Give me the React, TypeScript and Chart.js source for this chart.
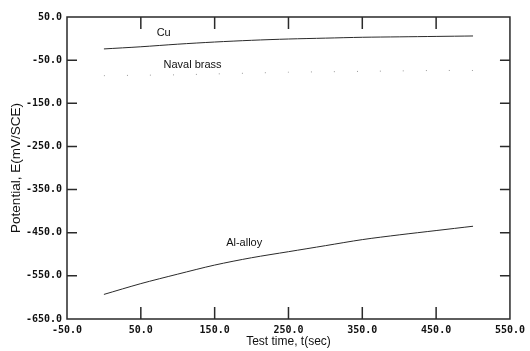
import React, { useEffect, useRef } from "react";
import { Chart, registerables } from "chart.js";

Chart.register(...registerables);

const times = [0, 50, 100, 150, 200, 250, 300, 350, 400, 450, 500];
const cuValues = [-24, -19, -13, -8, -4, -1, 1, 3, 4, 5, 6];
const brassValues = [-86, -85, -84, -82, -80, -78, -77, -76, -75, -74, -74];
const alValues = [-593, -568, -546, -525, -508, -494, -480, -466, -455, -445, -435];
const xTicks = [-50, 50, 150, 250, 350, 450, 550];
const yTicks = [50, -50, -150, -250, -350, -450, -550, -650];
const seriesLabels = [
  { text: "Cu", t: 81, v: 13 },
  { text: "Naval brass", t: 120, v: -62 },
  { text: "Al-alloy", t: 190, v: -474 },
];

const ink = "#2a2a2a";

const decorPlugin = {
  id: "decor",
  afterDraw(chart: any) {
    const ctx = chart.ctx;
    const xs = chart.scales.x;
    const ys = chart.scales.y;
    const a = chart.chartArea;
    ctx.save();
    ctx.setLineDash([]);
    ctx.strokeStyle = ink;
    ctx.lineWidth = 1.5;
    ctx.beginPath();
    ctx.moveTo(a.left, a.top);
    ctx.lineTo(a.right, a.top);
    ctx.lineTo(a.right, a.bottom);
    ctx.lineTo(a.left, a.bottom);
    ctx.closePath();
    xTicks.slice(1, -1).forEach((t) => {
      const px = xs.getPixelForValue(t);
      ctx.moveTo(px, a.bottom);
      ctx.lineTo(px, a.bottom - 12);
      ctx.moveTo(px, a.top);
      ctx.lineTo(px, a.top + 12);
    });
    yTicks.slice(1, -1).forEach((v) => {
      const py = ys.getPixelForValue(v);
      ctx.moveTo(a.left, py);
      ctx.lineTo(a.left + 10, py);
      ctx.moveTo(a.right, py);
      ctx.lineTo(a.right - 10, py);
    });
    ctx.stroke();
    ctx.fillStyle = "#111";
    ctx.font = "11px 'Liberation Sans', Arial, sans-serif";
    ctx.textAlign = "center";
    ctx.textBaseline = "middle";
    seriesLabels.forEach((l) => {
      ctx.fillText(l.text, xs.getPixelForValue(l.t), ys.getPixelForValue(l.v));
    });
    ctx.restore();
  },
};

export default function App() {
  const ref = useRef<HTMLCanvasElement | null>(null);
  useEffect(() => {
    if (!ref.current) return;
    const tickFont = { family: "'DejaVu Sans Mono', monospace", size: 10, weight: "bold" as const };
    const chart = new Chart(ref.current, {
      type: "line",
      data: {
        datasets: [
          {
            label: "Cu",
            data: times.map((t, i) => ({ x: t, y: cuValues[i] })),
            borderColor: ink,
            borderWidth: 1,
            pointRadius: 0,
            tension: 0.3,
          },
          {
            label: "Naval brass",
            data: times.map((t, i) => ({ x: t, y: brassValues[i] })),
            borderColor: "#9a9a9a",
            borderWidth: 1,
            borderDash: [1, 22],
            pointRadius: 0,
            tension: 0.3,
          },
          {
            label: "Al-alloy",
            data: times.map((t, i) => ({ x: t, y: alValues[i] })),
            borderColor: ink,
            borderWidth: 1,
            pointRadius: 0,
            tension: 0.3,
          },
        ],
      },
      options: {
        responsive: false,
        animation: false,
        layout: { padding: { top: 17, right: 14, left: 0, bottom: 0 } },
        plugins: { legend: { display: false }, tooltip: { enabled: false } },
        scales: {
          x: {
            type: "linear",
            min: -50,
            max: 550,
            afterBuildTicks: (s: any) => {
              s.ticks = xTicks.map((v) => ({ value: v }));
            },
            afterFit: (s: any) => {
              s.height = 32;
            },
            grid: { display: false, drawTicks: false },
            border: { display: false },
            ticks: {
              color: "#111",
              font: tickFont,
              padding: 5,
              maxRotation: 0,
              autoSkip: false,
              callback: (v: any) => Number(v).toFixed(1),
            },
            title: {
              display: true,
              text: "Test time, t(sec)",
              color: "#111",
              font: { family: "'Liberation Sans', Arial, sans-serif", size: 12 },
              padding: { top: 0, bottom: 2 },
            },
          },
          y: {
            type: "linear",
            min: -650,
            max: 50,
            afterBuildTicks: (s: any) => {
              s.ticks = yTicks.map((v) => ({ value: v }));
            },
            afterFit: (s: any) => {
              s.width = 67;
            },
            grid: { display: false, drawTicks: false },
            border: { display: false },
            ticks: {
              color: "#111",
              font: tickFont,
              padding: 5,
              autoSkip: false,
              callback: (v: any) => Number(v).toFixed(1),
            },
            title: {
              display: true,
              text: "Potential, E(mV/SCE)",
              color: "#111",
              font: { family: "'Liberation Sans', Arial, sans-serif", size: 13.5 },
              padding: { top: 8, bottom: 0 },
            },
          },
        },
      },
      plugins: [decorPlugin],
    });
    return () => chart.destroy();
  }, []);
  return (
    <div style={{ position: "fixed", left: 0, top: 0, width: 530, height: 351, background: "#fff" }}>
      <canvas ref={ref} width={530} height={351} style={{ width: 530, height: 351 }} />
    </div>
  );
}
